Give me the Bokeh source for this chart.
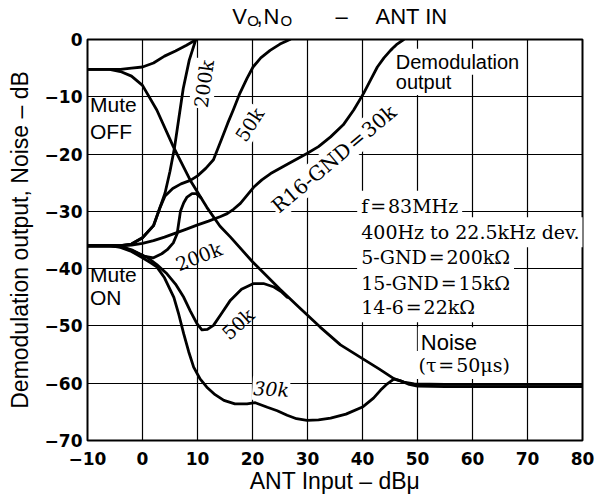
from bokeh.plotting import figure
from bokeh.models import Range1d, FixedTicker, Label
from bokeh.layouts import column
from bokeh.embed import file_html
from bokeh.resources import INLINE

# ---------------- data ----------------
x_ticks = [-10, 0, 10, 20, 30, 40, 50, 60, 70, 80]
x_tick_labels = ["\u221210", "0", "10", "20", "30", "40", "50", "60", "70", "80"]
y_ticks = [-70, -60, -50, -40, -30, -20, -10, 0]
y_tick_labels = ["\u221270", "\u221260", "\u221250", "\u221240", "\u221230", "\u221220", "\u221210", "0"]

# Demodulation output, Mute OFF
vo_off_x = [-10, -6, -4, -2, 0, 2, 4, 6, 8, 9.8]
vo_off_y = [-5.2, -5.2, -5.2, -5.0, -4.8, -4.1, -2.9, -2.0, -1.0, 0]

# Noise, Mute OFF
no_off_x = [-10, -6, -4, -2, 0, 2.6, 5.6, 8.7, 11.7, 14.1, 16, 20, 25, 28.5, 32.3, 36, 40, 43, 45.7, 47.5, 49.4, 55, 80]
no_off_y = [-5.2, -5.2, -5.6, -6.4, -8.0, -12.3, -18.7, -24.6, -29.3, -32.6, -34.5, -38.8, -43.6, -46.8, -50.2,
            -53.3, -55.7, -57.5, -59.2, -59.8, -60.1, -60.2, -60.2]

# Demodulation output, Mute ON, 5-GND = 200k
vo_200k_x = [-10, -6, -4, -2, 0, 2, 3.2, 4.1, 5, 5.8, 6.6, 7.4, 8.5, 9.7]
vo_200k_y = [-36, -36, -36, -35.7, -34.6, -32.5, -29.3, -26.8, -23, -19, -13.8, -8.6, -3.6, 0]

# Demodulation output, Mute ON, 50k
vo_50k_x = [-10, -6, -4, -2, 0, 2, 3.2, 4.1, 5.5, 7, 8.7, 10, 11.5, 12.9, 14.3, 15.5, 16.5, 17.7, 19, 20.1,
            21.5, 23.2, 25, 26.8]
vo_50k_y = [-36, -36, -36, -35.7, -34.6, -32.5, -29.3, -27.3, -26, -25.2, -24.6, -23.8, -22.5, -21, -17.6,
            -14.6, -12.3, -9.4, -6.8, -4.8, -3.2, -1.9, -0.8, 0]

# Demodulation output, Mute ON, R16-GND = 30k
vo_30k_x = [-10, -6, -4, -2, 0, 2, 4, 6, 8, 9.9, 12, 14.2, 15.4, 16.6, 17.8, 19, 20.2, 21.7, 23.3, 26.5, 29.9,
            32, 34.2, 36.5, 38.4, 40.2, 41.5, 42.7, 43.9, 45.1, 46.3, 47.5]
vo_30k_y = [-36, -36, -36, -35.9, -35.6, -35.1, -34.5, -33.8, -33.1, -32.4, -31.7, -30.9, -30.4, -29.6, -28.6,
            -27.2, -25.8, -24.5, -23.4, -21.7, -19.9, -18.7, -17.0, -14.9, -12.3, -9.4, -7.0, -4.8, -3.2, -1.9,
            -0.8, 0]

# Noise, Mute ON, 200k
no_200k_x = [-10, -6, -4, -2, 0.2, 2, 3.5, 4.5, 5.6, 6.3, 6.9, 7.5, 8.1, 9.0, 9.8, 10.6]
no_200k_y = [-36, -36, -36.1, -36.7, -37.8, -38.1, -37.4, -36.7, -35.5, -33.9, -30, -28.5, -27.5, -26.9, -26.9, -27.6]

# Noise, Mute ON, 50k
no_50k_x = [-10, -6, -4, -2, 0.8, 2.6, 4.45, 6, 7.5, 8.7, 9.9, 10.8, 11.8, 12.9, 14.4, 16, 18, 20.2, 22, 23.9,
            25.2, 26.3]
no_50k_y = [-36, -36, -36.2, -36.8, -38, -39.3, -40.9, -42.7, -45, -47.4, -49.6, -50.7, -50.6, -49.9, -47.8,
            -45.5, -43.6, -42.6, -42.6, -43.2, -44, -45]

# Noise, Mute ON, 30k
no_30k_x = [-10, -6, -4, -2, 0, 1.5, 2.6, 4, 5.7, 6.6, 7.5, 8.4, 9.3, 10.5, 11.7, 13.2, 14.8, 16.8, 19, 20.5,
            22.7, 24.5, 26.3, 28, 29.9, 32, 34.2, 37, 40.1, 42, 43.3, 44.5, 45.7, 47, 48.5, 50, 55, 80]
no_30k_y = [-36, -36, -36.3, -37, -38.1, -39, -39.7, -41.6, -45, -48, -51.4, -54.5, -57.2, -59.3, -60.7, -62,
            -63, -63.6, -63.6, -63.4, -64.2, -64.8, -65.6, -66.2, -66.5, -66.4, -66.1, -65.4, -64.1, -62.6,
            -61.2, -60.1, -59.3, -59.6, -60.2, -60.5, -60.6, -60.6]

curves = [
    (vo_off_x, vo_off_y), (no_off_x, no_off_y),
    (vo_200k_x, vo_200k_y), (vo_50k_x, vo_50k_y), (vo_30k_x, vo_30k_y),
    (no_200k_x, no_200k_y), (no_50k_x, no_50k_y), (no_30k_x, no_30k_y),
]

SANS = "Liberation Sans"
SERIF = "DejaVu Serif"

# ---------------- main figure ----------------
p = figure(frame_width=495, frame_height=401, title=None,
           x_range=Range1d(-10, 80), y_range=Range1d(-70, 0),
           output_backend="svg", toolbar_location=None,
           min_border_left=87, min_border_right=22, min_border_top=10, min_border_bottom=55,
           background_fill_color="white", border_fill_color="white")

p.xaxis.ticker = FixedTicker(ticks=x_ticks)
p.yaxis.ticker = FixedTicker(ticks=y_ticks)
p.xaxis.major_label_overrides = {t: s for t, s in zip(x_ticks, x_tick_labels)}
p.yaxis.major_label_overrides = {t: s for t, s in zip(y_ticks, y_tick_labels)}
for ax in (p.xaxis[0], p.yaxis[0]):
    ax.axis_line_color = None
    ax.major_tick_line_color = None
    ax.minor_tick_line_color = None
    ax.major_tick_out = 0
    ax.major_tick_in = 0
    ax.major_label_text_font = "DejaVu Sans"
    ax.major_label_text_font_style = "bold"
    ax.major_label_text_font_size = "17px"
    ax.major_label_text_color = "black"
    ax.axis_label_text_font = SANS
    ax.axis_label_text_font_style = "normal"
    ax.axis_label_text_font_size = "23px"
    ax.axis_label_text_color = "black"
p.xaxis.axis_label = "ANT Input \u2013 dB\u03bc"
p.yaxis.axis_label = "Demodulation output, Noise \u2013 dB"
p.xaxis.major_label_standoff = 11
p.xaxis.axis_label_standoff = 0
p.yaxis.major_label_standoff = 5
p.yaxis.axis_label_standoff = 9

p.grid.grid_line_color = "black"
p.grid.grid_line_width = 1.2
p.outline_line_color = "black"
p.outline_line_width = 2

for cx, cy in curves:
    p.line(cx, cy, line_color="black", line_width=2.8, line_join="round", line_cap="round")


def lab(fig, text, x, y, size, font=SANS, style="normal", angle=0, align="left",
        baseline="middle", bg=None, pad=0):
    kw = dict(x=x, y=y, text=text, text_font=font, text_font_size=size, text_font_style=style,
              angle=angle, angle_units="deg", text_align=align, text_baseline=baseline,
              text_color="black")
    if bg is not None:
        kw.update(background_fill_color=bg, padding=pad)
    fig.add_layout(Label(**kw))


# in-plot annotations (y = middle of the text line)
lab(p, "Mute", -9.55, -11.41, "21px")
lab(p, "OFF", -9.55, -16.05, "21px")
lab(p, "Mute", -9.55, -40.96, "21px")
lab(p, "ON", -9.55, -44.98, "21px")

lab(p, "Demodulation", 45.69, -3.89, "20px", bg="white", pad=2)
lab(p, "output", 45.69, -7.42, "20px", bg="white", pad=2)

params = ["f\u200a=\u200a83MHz", "400Hz to 22.5kHz dev.", "5-GND\u200a=\u200a200k\u03a9",
          "15-GND\u200a=\u200a15k\u03a9", "14-6\u200a=\u200a22k\u03a9"]
param_y = [-29.0, -33.64, -38.0, -42.54, -46.73]
for txt, yy in zip(params, param_y):
    lab(p, txt, 39.04, yy, "19px", SERIF, bg="white", pad=4)

lab(p, "Noise", 50.05, -52.95, "22px", bg="white", pad=3)
lab(p, "(\u03c4\u200a=\u200a50\u03bcs)", 49.64, -56.8, "19px", SERIF, bg="white", pad=3)

lab(p, "200k", 11.15, -7.73, "19px", SERIF, angle=82, align="center", bg="white", pad=1)
lab(p, "50k", 19.45, -14.84, "19px", SERIF, angle=57, align="center", bg="white", pad=1)
lab(p, "R16-GND\u200a=\u200a30k", 34.78, -20.83, "20px", SERIF, angle=40, align="center", bg="white", pad=1)
lab(p, "200k", 10.24, -37.85, "19px", SERIF, angle=21, align="center")
lab(p, "50k", 17.36, -49.63, "19px", SERIF, angle=42, align="center")
lab(p, "30k", 23.4, -60.98, "19px", SERIF, style="italic", angle=-3, align="center", bg="white", pad=1)

# ---------------- title strip (shares the x scale; y in pixels from its bottom) ----------------
t = figure(frame_width=495, frame_height=29, title=None,
           x_range=p.x_range, y_range=Range1d(0, 29),
           output_backend="svg", toolbar_location=None,
           x_axis_location=None, y_axis_location=None,
           min_border=0, min_border_left=87, min_border_right=22, min_border_top=0, min_border_bottom=0,
           background_fill_color="white", border_fill_color="white")
t.outline_line_color = None
t.grid.visible = False

lab(t, "V", 16.31, 12.7, "22px")
lab(t, "O", 19.04, 8.55, "15px")
lab(t, ",", 20.73, 12.7, "22px")
lab(t, "N", 22.0, 12.7, "22px")
lab(t, "O", 25.09, 8.55, "15px")
lab(t, "\u2013", 35.09, 12.7, "22px")
lab(t, "ANT IN", 42.36, 12.7, "22px")

layout = column(t, p, spacing=0)
open("out.html", "w").write(file_html(layout, INLINE))
